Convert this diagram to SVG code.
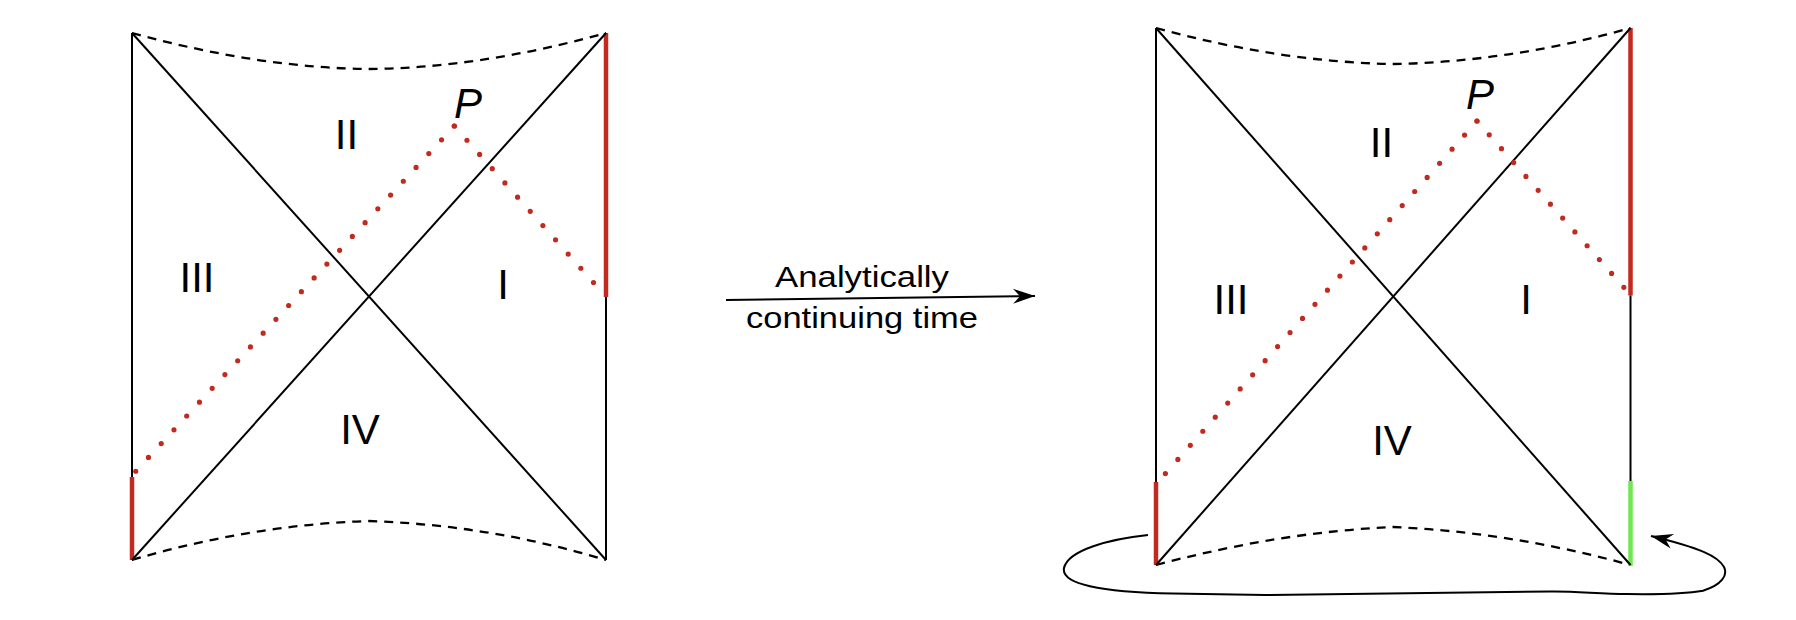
<svg xmlns="http://www.w3.org/2000/svg" width="1796" height="620" viewBox="0 0 1796 620">
<style>
.ln{stroke:#000;stroke-width:2;fill:none}
.dash{stroke:#000;stroke-width:2.3;fill:none;stroke-dasharray:9 7}
.red{stroke:#c22a1f;stroke-width:4.5;fill:none}
.grn{stroke:#6ee84e;stroke-width:4.5;fill:none}
.dot{stroke:#c22a1f;stroke-width:5.2;stroke-linecap:round;fill:none}
.lbl{font-family:"Liberation Sans",Arial,sans-serif;font-size:42px;fill:#000;text-anchor:middle}
.p{font-family:"Liberation Sans",Arial,sans-serif;font-size:42px;font-style:italic;fill:#000}
.cap{font-family:"Liberation Sans",Arial,sans-serif;font-size:30px;fill:#000;text-anchor:middle}
</style>
<defs>
<marker id="ah" markerUnits="userSpaceOnUse" viewBox="-24 -10 26 20" refX="0" refY="0" markerWidth="26" markerHeight="20" orient="auto">
<path d="M0,0 L-22,-7.5 L-15,0 L-22,7.5 Z" fill="#000"/>
</marker>
</defs>
<rect width="1796" height="620" fill="#fff"/>

<g id="left-diagram">
<path class="dash" d="M132,33 Q260,68 369,69 Q480,68 606,33"/>
<path class="dash" d="M132,560 Q250,525 369,521 Q490,525 606,560"/>
<line class="ln" x1="132" y1="33" x2="132" y2="477"/>
<line class="red" x1="132" y1="477" x2="132" y2="560"/>
<line class="red" x1="606" y1="33" x2="606" y2="297"/>
<line class="ln" x1="606" y1="297" x2="606" y2="560"/>
<line class="ln" x1="132" y1="33" x2="606" y2="560"/>
<line class="ln" x1="132" y1="560" x2="606" y2="33"/>
<line class="dot" x1="454.3" y1="126" x2="135.3" y2="471.7" stroke-dasharray="0 18.79"/>
<line class="dot" x1="454.3" y1="126" x2="593.7" y2="282.7" stroke-dasharray="0 19.04"/>
<text class="p" x="454" y="118">P</text>
<text class="lbl" x="346.5" y="149">II</text>
<text class="lbl" x="197" y="292">III</text>
<text class="lbl" x="503" y="299">I</text>
<text class="lbl" x="360" y="444">IV</text>
</g>

<g id="right-diagram">
<path class="dash" d="M1156,28 Q1280,62 1393,64 Q1510,62 1630.5,28"/>
<path class="dash" d="M1156,565 Q1280,532 1393,527 Q1510,532 1630.5,565"/>
<line class="ln" x1="1156" y1="28" x2="1156" y2="482"/>
<line class="red" x1="1156" y1="482" x2="1156" y2="565"/>
<line class="red" x1="1630.5" y1="28" x2="1630.5" y2="295.5"/>
<line class="ln" x1="1630.5" y1="295.5" x2="1630.5" y2="481"/>
<line class="grn" x1="1630.5" y1="481" x2="1630.5" y2="566"/>
<line class="ln" x1="1156" y1="28" x2="1630.5" y2="565"/>
<line class="ln" x1="1156" y1="565" x2="1630.5" y2="28"/>
<line class="dot" x1="1477" y1="121" x2="1165" y2="474" stroke-dasharray="0 18.82"/>
<line class="dot" x1="1477" y1="121" x2="1624" y2="287.5" stroke-dasharray="0 18.49"/>
<text class="p" x="1466" y="109">P</text>
<text class="lbl" x="1381.5" y="157">II</text>
<text class="lbl" x="1231" y="314">III</text>
<text class="lbl" x="1526" y="314">I</text>
<text class="lbl" x="1392" y="455">IV</text>
</g>

<g id="connectors">
<line class="ln" x1="726" y1="300" x2="1035" y2="296" marker-end="url(#ah)"/>
<path class="ln" d="M1148,535 C1110,539 1068,550 1064,568 C1061,584 1100,592 1173,593.5 L1265,595 L1550,591.5 C1575,591 1600,594 1627,594 C1660,594.5 1690,593 1703,590.7 C1722,585 1728,575 1724,567 C1718,556 1700,548 1651,536" marker-end="url(#ah)"/>
</g>

<g id="arrow-label">
<text class="cap" x="862" y="287" textLength="174" lengthAdjust="spacingAndGlyphs">Analytically</text>
<text class="cap" x="862" y="328" textLength="232" lengthAdjust="spacingAndGlyphs">continuing time</text>
</g>
</svg>
